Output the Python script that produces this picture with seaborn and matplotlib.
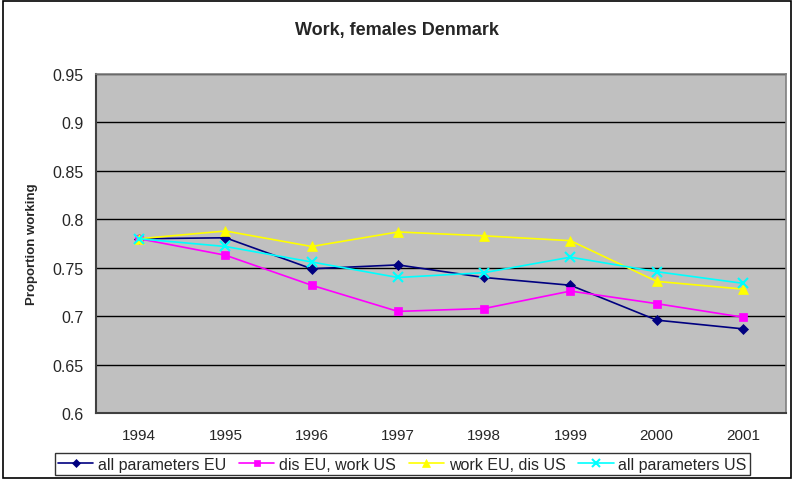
import pandas as pd
import numpy as np
import matplotlib
matplotlib.use("Agg")
import matplotlib.pyplot as plt
import seaborn as sns
from matplotlib.patches import Rectangle
from matplotlib.ticker import MultipleLocator, FixedLocator

# values
years = [1994, 1995, 1996, 1997, 1998, 1999, 2000, 2001]
all_param_eu = [0.780, 0.781, 0.749, 0.753, 0.740, 0.732, 0.696, 0.687]
dis_eu_work_us = [0.780, 0.763, 0.732, 0.705, 0.708, 0.726, 0.713, 0.699]
work_eu_dis_us = [0.780, 0.788, 0.772, 0.787, 0.783, 0.778, 0.736, 0.728]
all_param_us = [0.780, 0.772, 0.756, 0.740, 0.745, 0.761, 0.746, 0.734]

series_names = ["all parameters EU", "dis EU, work US", "work EU, dis US", "all parameters US"]

df = pd.DataFrame({
    "year": years * 4,
    "value": all_param_eu + dis_eu_work_us + work_eu_dis_us + all_param_us,
    "series": sum([[n] * len(years) for n in series_names], []),
})

sns.set_style("white")
plt.rcParams["font.family"] = ["Liberation Sans", "DejaVu Sans"]

colors = {"all parameters EU": "#000080", "dis EU, work US": "#FF00FF",
          "work EU, dis US": "#FFFF00", "all parameters US": "#00FFFF"}
markers = {"all parameters EU": "D", "dis EU, work US": "s",
           "work EU, dis US": "^", "all parameters US": "x"}
msizes = {"all parameters EU": 5, "dis EU, work US": 6,
          "work EU, dis US": 7, "all parameters US": 7}

fig = plt.figure(figsize=(7.94, 4.81), dpi=100)
ax = fig.add_axes([0.121, 0.139, 0.869, 0.705])
ax.set_facecolor("#C0C0C0")

for name in series_names:
    sub = df[df["series"] == name]
    sns.lineplot(data=sub, x="year", y="value", ax=ax, color=colors[name],
                 marker=markers[name], markersize=msizes[name],
                 markeredgecolor=colors[name], markeredgewidth=1.5 if name == "all parameters US" else 0.5,
                 linewidth=1.2, label=name)

ax.set_xlim(1993.5, 2001.5)
ax.set_ylim(0.6, 0.95)
ax.yaxis.set_major_locator(MultipleLocator(0.05))
ax.set_yticklabels([f"{v:g}" for v in ax.get_yticks()])
ax.set_xticks(years)
ax.set_xticklabels([str(y) for y in years])
ax.xaxis.set_minor_locator(FixedLocator(np.arange(1993.5, 2002, 1.0)))
ax.tick_params(axis="x", which="major", length=0, labelsize=11, pad=11)
ax.tick_params(axis="x", which="minor", length=5, width=1, color="black", direction="out")
ax.tick_params(axis="y", length=5, width=1, color="black", direction="out", labelsize=11.5, pad=4)
ax.grid(axis="y", color="black", linewidth=1)
ax.set_axisbelow(True)

for side in ["top", "right"]:
    ax.spines[side].set_color("#808080")
    ax.spines[side].set_linewidth(1.2)
for side in ["left", "bottom"]:
    ax.spines[side].set_color("#404040")
    ax.spines[side].set_linewidth(1.5)

ax.set_xlabel("")
ax.set_ylabel("Proportion working", fontsize=9.5, fontweight="bold", labelpad=10)
fig.text(0.5, 0.937, "Work, females Denmark", ha="center", va="center",
         fontsize=13, fontweight="bold")

if ax.legend_:
    ax.legend_.remove()
handles, labels = ax.get_legend_handles_labels()
leg = fig.legend(handles, labels, loc="center", bbox_to_anchor=(0.507, 0.033), ncol=4,
                 frameon=True, fancybox=False, edgecolor="black", fontsize=11.5,
                 handlelength=2.2, handletextpad=0.3, columnspacing=0.8,
                 borderpad=0.2, markerscale=0.8)
leg.get_frame().set_linewidth(1)

fig.patches.append(Rectangle((0.004, 0.004), 0.992, 0.992, transform=fig.transFigure,
                             fill=False, edgecolor="black", linewidth=1.2))

fig.savefig("out.png", dpi=100)
